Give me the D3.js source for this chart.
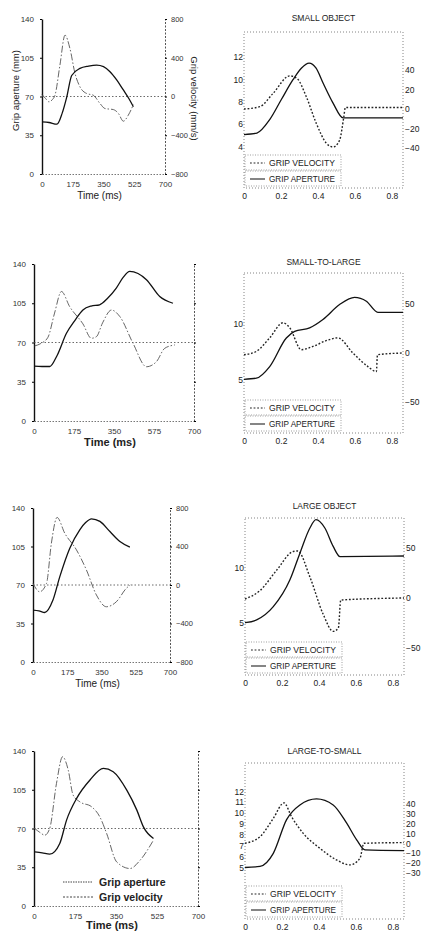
<!DOCTYPE html>
<html>
<head>
<meta charset="utf-8">
<script src="https://cdn.jsdelivr.net/npm/d3@7"></script>
<style>
  body { margin: 0; background: #fff; }
  svg { display: block; font-family: "Liberation Sans", Arial, sans-serif; }
</style>
</head>
<body>
<div id="chart"></div>
<script>
const W = 421, H = 933;

// left column: time in ms, aperture in mm, velocity in mm/s
const msTicks = [0, 175, 350, 525, 700];
const mmTicks = [0, 35, 70, 105, 140];
const velTicks = [-800, -400, 0, 400, 800];

const l1ApT = [0, 40, 85, 115, 140, 169, 216, 265, 311, 350, 387, 425, 463, 495, 520];
const l1Ap = [47, 46.5, 45, 55, 69, 89, 95.4, 97.5, 98.4, 97, 92.4, 85, 75.9, 68, 60.8];
const l1VelT = [0, 20, 40, 60, 74, 102, 131, 159, 188, 216, 254, 292, 330, 358, 406, 435, 463, 491, 520];
const l1Vel = [20, -20, -55, -30, 13, 323, 633, 495, 237, 100, 31, 13, -72, -124, -135, -175, -255, -193, -83];

const l2ApT = [0, 35, 69, 100, 142, 180, 214, 250, 287, 320, 360, 390, 419, 455, 492, 550, 608];
const l2Ap = [49, 48.6, 48.6, 58, 78.2, 90, 99, 102.5, 103.6, 109, 118.5, 128, 133.4, 131.5, 126, 111, 105];
const l2VelT = [3, 30, 61, 90, 120, 156, 214, 251, 273, 300, 339, 375, 433, 492, 535, 572, 616];
const l2Vel = [-35, -10, 53, 300, 520, 366, 190, 43, 59, 200, 331, 266, -7, -247, -197, -59, -25];

const l3ApT = [0, 30, 60, 102, 137, 188, 239, 270, 299, 342, 393, 444, 495];
const l3Ap = [47.2, 46.5, 45, 56.3, 77.6, 103.5, 120.2, 127, 130.2, 127.8, 118.6, 109.5, 104.4];
const l3VelT = [0, 34, 69, 94, 123, 162, 222, 273, 324, 375, 426, 477, 497];
const l3Vel = [17, -70, 17, 435, 702, 539, 365, 156, -104, -226, -174, -34, 0];

const l4ApT = [3, 35, 67, 110, 139, 182, 239, 296, 338, 396, 439, 467, 510];
const l4Ap = [48.9, 48, 46.8, 56.5, 77.6, 97.2, 113.8, 124.3, 121.3, 104.7, 86.6, 71.5, 61];
const l4VelT = [3, 25, 46, 67, 96, 122, 146, 167, 196, 246, 281, 310, 353, 410, 453, 510];
const l4Vel = [0, -40, -69, 0, 466, 741, 604, 345, 275, 224, 120, -51, -345, -413, -327, -120];

// right column: time in s, aperture (left scale), velocity (right scale)
const sTicks = [0, 0.2, 0.4, 0.6, 0.8];
const rTitles = ["SMALL OBJECT", "SMALL-TO-LARGE", "LARGE OBJECT", "LARGE-TO-SMALL"];

const r1ApT = [0, 0.07, 0.139, 0.202, 0.265, 0.31, 0.352, 0.39, 0.427, 0.481, 0.536, 0.86];
const r1Ap = [5.06, 5.2, 6.4, 8.2, 9.97, 11.0, 11.46, 11.0, 9.7, 7.9, 6.55, 6.55];
const r1VelT = [0, 0.085, 0.157, 0.247, 0.286, 0.337, 0.391, 0.445, 0.482, 0.517, 0.54, 0.548, 0.86];
const r1Vel = [0, 2.4, 16, 34, 31.5, 12.6, -14.7, -35, -39, -32, -8, 1.5, 1.5];

const r2ApT = [0, 0.067, 0.139, 0.229, 0.274, 0.355, 0.427, 0.517, 0.598, 0.662, 0.724, 0.86];
const r2Ap = [5.0, 5.1, 6.15, 8.73, 9.33, 9.64, 10.4, 11.75, 12.4, 12.05, 11.05, 11.05];
const r2VelT = [0, 0.067, 0.139, 0.211, 0.247, 0.31, 0.373, 0.45, 0.508, 0.589, 0.67, 0.716, 0.722, 0.86];
const r2Vel = [-1.8, 1.7, 15.5, 31, 26, 3.4, 6.8, 13, 15.5, 0, -13.9, -19, -1.8, 0];

const r3ApT = [0, 0.063, 0.153, 0.243, 0.297, 0.351, 0.384, 0.432, 0.477, 0.514, 0.86];
const r3Ap = [5.05, 5.3, 6.5, 8.94, 11.36, 13.64, 14.4, 13.64, 11.97, 11.05, 11.1];
const r3VelT = [0, 0.081, 0.171, 0.261, 0.285, 0.351, 0.423, 0.477, 0.505, 0.518, 0.86];
const r3Vel = [-1, 7.4, 27.8, 46.5, 47, 21, -16.3, -33.4, -30, -2, 0];

const r4ApT = [0, 0.081, 0.153, 0.225, 0.297, 0.387, 0.477, 0.55, 0.604, 0.649, 0.86];
const r4Ap = [5.0, 5.1, 6.3, 9.4, 10.75, 11.3, 10.75, 9.07, 7.54, 6.62, 6.56];
const r4VelT = [0, 0.081, 0.153, 0.211, 0.252, 0.315, 0.405, 0.495, 0.568, 0.622, 0.643, 0.86];
const r4Vel = [0, 6.6, 25, 40.6, 26.6, 10, -5, -16.7, -21.7, -15, 0, 0.7];

const svg = d3.select("#chart").append("svg")
  .attr("width", W).attr("height", H)
  .attr("viewBox", `0 0 ${W} ${H}`);
svg.append("rect").attr("width", W).attr("height", H).attr("fill", "#fff");

function zip(a, b) { return a.map((t, i) => [t, b[i]]); }

// ---------- left column panels ----------
function drawLeft(p) {
  const g = svg.append("g");
  const x = d3.scaleLinear().domain([0, 700]).range([p.x0, p.x1]);
  const y = d3.scaleLinear().domain([0, 140]).range([p.yb, p.yt]);
  const yv = d3.scaleLinear().domain([-800, 800]).range([p.yb, p.yt]);

  // bottom axis (dotted)
  const xa = g.append("g").attr("transform", `translate(0,${p.yb})`)
    .call(d3.axisBottom(x).tickValues(msTicks).tickSize(0).tickPadding(7)
      .tickFormat((d, i) => p.xLabels[i]));
  xa.select(".domain").attr("stroke", "#777").attr("stroke-dasharray", "1.5,1.5");
  xa.selectAll("text").attr("font-size", 8).attr("fill", "#333");

  // left axis (solid)
  const ya = g.append("g").attr("transform", `translate(${p.x0},0)`)
    .call(d3.axisLeft(y).tickValues(mmTicks).tickSize(2).tickPadding(6).tickSizeOuter(0));
  ya.select(".domain").attr("stroke", "#111").attr("stroke-width", 1.4);
  ya.selectAll("text").attr("font-size", 8).attr("fill", "#333");

  // right axis (dotted)
  const ra = g.append("g").attr("transform", `translate(${p.x1},0)`)
    .call(d3.axisRight(yv).tickValues(velTicks).tickSize(2).tickPadding(4).tickSizeOuter(0));
  ra.select(".domain").attr("stroke", "#555").attr("stroke-dasharray", "2,1.5");
  ra.selectAll("text").attr("font-size", 7.5).attr("fill", "#333")
    .style("display", p.rightLabels ? null : "none");

  // zero velocity line
  g.append("line")
    .attr("x1", p.x0).attr("x2", p.x1)
    .attr("y1", yv(0)).attr("y2", yv(0))
    .attr("stroke", "#444").attr("stroke-width", 0.8).attr("stroke-dasharray", "1.5,2");

  const lineAp = d3.line().x(d => x(d[0])).y(d => y(d[1])).curve(d3.curveMonotoneX);
  const lineV = d3.line().x(d => x(d[0])).y(d => yv(d[1])).curve(d3.curveMonotoneX);

  g.append("path").datum(zip(p.velT, p.vel)).attr("d", lineV)
    .attr("fill", "none").attr("stroke", "#555").attr("stroke-width", 0.9)
    .attr("stroke-dasharray", "7,2,1.5,2");
  g.append("path").datum(zip(p.apT, p.ap)).attr("d", lineAp)
    .attr("fill", "none").attr("stroke", "#111").attr("stroke-width", 1.3);

  g.append("text")
    .attr("x", (p.x0 + p.x1) / 2 - 4).attr("y", p.timeY)
    .attr("text-anchor", "middle")
    .attr("font-size", p.timeBold ? 11 : 10)
    .attr("font-weight", p.timeBold ? "bold" : "normal")
    .attr("fill", "#222")
    .text("Time (ms)");

  if (p.axisTitles) {
    g.append("text")
      .attr("transform", `translate(19,${(p.yt + p.yb) / 2 - 6}) rotate(-90)`)
      .attr("text-anchor", "middle").attr("font-size", 9.5).attr("fill", "#222")
      .text("Grip aperture (mm)");
    g.append("text")
      .attr("transform", `translate(191,${(p.yt + p.yb) / 2 + 2}) rotate(90)`)
      .attr("text-anchor", "middle").attr("font-size", 9.5).attr("fill", "#222")
      .text("Grip velocity (mm/s)");
  }

  if (p.legend) {
    const lg = g.append("g");
    const rows = [["Grip aperture", "1.5,1"], ["Grip velocity", "2,1.5"]];
    rows.forEach((r, i) => {
      const yy = 882 + i * 15;
      lg.append("line").attr("x1", 63).attr("x2", 93).attr("y1", yy).attr("y2", yy)
        .attr("stroke", "#444").attr("stroke-width", 1).attr("stroke-dasharray", r[1]);
      lg.append("text").attr("x", 99).attr("y", yy + 4)
        .attr("font-size", 10.5).attr("font-weight", "bold").attr("fill", "#222")
        .text(r[0]);
    });
  }
}

// ---------- right column panels ----------
function drawRight(p) {
  const g = svg.append("g");
  const x = d3.scaleLinear().domain([0, 0.86]).range([p.x0, p.x1]);
  const y = d3.scaleLinear().domain(p.apDom).range([p.yb, p.yt]);
  const yv = d3.scaleLinear().domain(p.velDom).range([p.yb, p.yt]);

  // dotted frame
  g.append("rect")
    .attr("x", p.x0).attr("y", p.yt)
    .attr("width", p.x1 - p.x0).attr("height", p.yb - p.yt)
    .attr("fill", "none").attr("stroke", "#666").attr("stroke-width", 0.8)
    .attr("stroke-dasharray", "1,2");

  g.append("text")
    .attr("x", (p.x0 + p.x1) / 2).attr("y", p.titleY)
    .attr("text-anchor", "middle").attr("font-size", 8.5).attr("fill", "#222")
    .attr("textLength", p.title.length * 5.3).attr("lengthAdjust", "spacingAndGlyphs")
    .text(p.title);

  const xa = g.append("g").attr("transform", `translate(0,${p.yb})`)
    .call(d3.axisBottom(x).tickValues(sTicks).tickSize(0).tickPadding(5)
      .tickFormat(d => d === 0 ? "0" : d3.format(".1f")(d)));
  xa.select(".domain").remove();
  xa.selectAll("text").attr("font-size", 8.5).attr("fill", "#222");

  const ya = g.append("g").attr("transform", `translate(${p.x0},0)`)
    .call(d3.axisLeft(y).tickValues(p.apTicks).tickSize(0).tickPadding(1));
  ya.select(".domain").remove();
  ya.selectAll("text").attr("font-size", 8.5).attr("fill", "#222");

  const ra = g.append("g").attr("transform", `translate(${p.x1},0)`)
    .call(d3.axisRight(yv).tickValues(p.velTicks).tickSize(0).tickPadding(2));
  ra.select(".domain").remove();
  ra.selectAll("text").attr("font-size", 8.5).attr("fill", "#222");

  const lineAp = d3.line().x(d => x(d[0])).y(d => y(d[1])).curve(d3.curveMonotoneX);
  const lineV = d3.line().x(d => x(d[0])).y(d => yv(d[1])).curve(d3.curveMonotoneX);

  g.append("path").datum(zip(p.velT, p.vel)).attr("d", lineV)
    .attr("fill", "none").attr("stroke", "#222").attr("stroke-width", 1.4)
    .attr("stroke-dasharray", "1.8,1.8");
  g.append("path").datum(zip(p.apT, p.ap)).attr("d", lineAp)
    .attr("fill", "none").attr("stroke", "#111").attr("stroke-width", 1.3);

  // legend
  const bx = p.x0 + 1, bw = 96, top = p.yb - 33;
  [["GRIP VELOCITY", "1.8,1.8"], ["GRIP APERTURE", null]].forEach((r, i) => {
    const ry = top + i * 16;
    g.append("rect").attr("x", bx).attr("y", ry).attr("width", bw).attr("height", 15)
      .attr("fill", "#fff").attr("stroke", "#777").attr("stroke-width", 0.7)
      .attr("stroke-dasharray", "1,1.5");
    g.append("line").attr("x1", bx + 5).attr("x2", bx + 20)
      .attr("y1", ry + 8).attr("y2", ry + 8)
      .attr("stroke", "#222").attr("stroke-width", 1.1)
      .attr("stroke-dasharray", r[1]);
    g.append("text").attr("x", bx + 24).attr("y", ry + 11)
      .attr("font-size", 8.5).attr("fill", "#222")
      .attr("textLength", 66).attr("lengthAdjust", "spacingAndGlyphs")
      .text(r[0]);
  });
}

drawLeft({ x0: 42, x1: 165, yt: 19, yb: 174, timeY: 199, timeBold: false,
  xLabels: ["0", "175", "350", "525", "700"], rightLabels: true, axisTitles: true,
  apT: l1ApT, ap: l1Ap, velT: l1VelT, vel: l1Vel });
drawLeft({ x0: 34, x1: 194, yt: 264, yb: 421, timeY: 446, timeBold: true,
  xLabels: ["0", "175", "350", "575", "700"], rightLabels: false,
  apT: l2ApT, ap: l2Ap, velT: l2VelT, vel: l2Vel });
drawLeft({ x0: 33, x1: 170, yt: 508, yb: 662, timeY: 687, timeBold: false,
  xLabels: ["0", "175", "350", "525", "700"], rightLabels: true,
  apT: l3ApT, ap: l3Ap, velT: l3VelT, vel: l3Vel });
drawLeft({ x0: 34, x1: 198, yt: 751, yb: 906, timeY: 929, timeBold: true,
  xLabels: ["0", "175", "350", "525", "700"], rightLabels: false, legend: true,
  apT: l4ApT, ap: l4Ap, velT: l4VelT, vel: l4Vel });

drawRight({ x0: 244, x1: 403, yt: 32, yb: 188, titleY: 21, title: rTitles[0],
  apDom: [0.28, 14.24], velDom: [-81, 79], apTicks: [4, 6, 8, 10, 12], velTicks: [-40, -20, 0, 20, 40],
  apT: r1ApT, ap: r1Ap, velT: r1VelT, vel: r1Vel });
drawRight({ x0: 244, x1: 403, yt: 273, yb: 433, titleY: 265, title: rTitles[1],
  apDom: [0.15, 14.6], velDom: [-82, 82], apTicks: [5, 10], velTicks: [-50, 0, 50],
  apT: r2ApT, ap: r2Ap, velT: r2VelT, vel: r2Vel });
drawRight({ x0: 245, x1: 404, yt: 518, yb: 675, titleY: 509, title: rTitles[2],
  apDom: [0.3, 14.55], velDom: [-77, 80], apTicks: [5, 10], velTicks: [-50, 0, 50],
  apT: r3ApT, ap: r3Ap, velT: r3VelT, vel: r3Vel });
drawRight({ x0: 245, x1: 404, yt: 763, yb: 919, titleY: 754, title: rTitles[3],
  apDom: [0.27, 14.6], velDom: [-76, 80.6], apTicks: [5, 6, 7, 8, 9, 10, 11, 12],
  velTicks: [-30, -20, -10, 0, 10, 20, 30, 40],
  apT: r4ApT, ap: r4Ap, velT: r4VelT, vel: r4Vel });
</script>
</body>
</html>
